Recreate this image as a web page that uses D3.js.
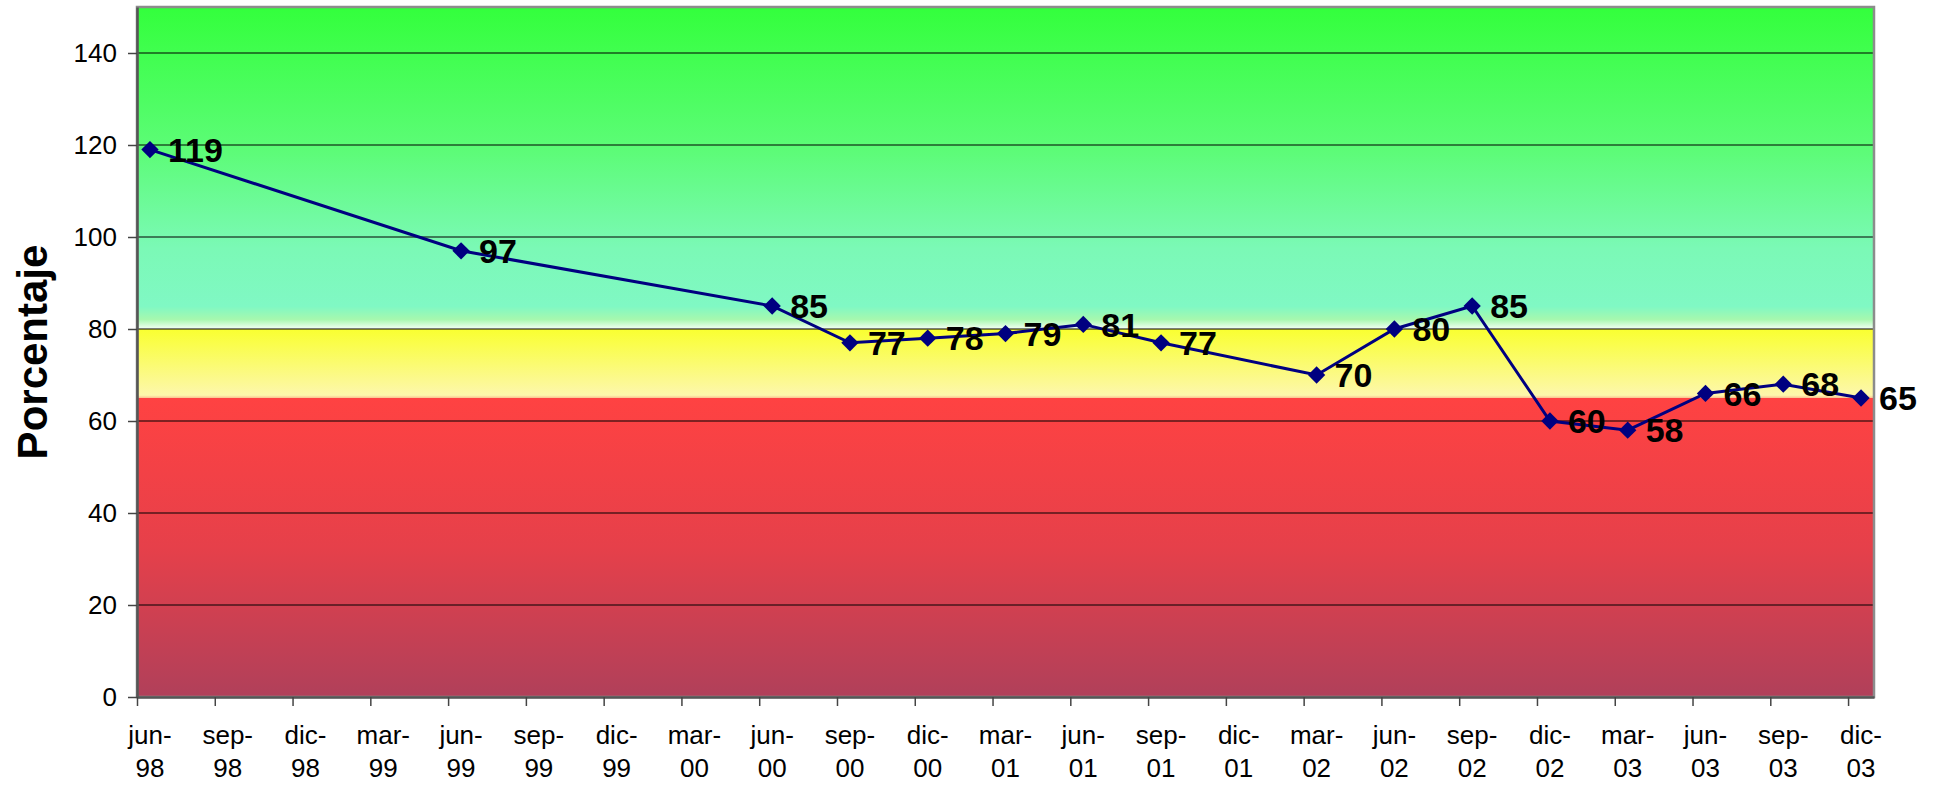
<!DOCTYPE html>
<html>
<head>
<meta charset="utf-8">
<script src="https://cdn.jsdelivr.net/npm/d3@7"></script>
<style>
    body { margin: 0; background: #fff; }
    #chart { width: 1935px; height: 786px; }
    text { font-family: Arial, "Liberation Sans", sans-serif; }
</style>
</head>
<body>
<div id="chart"></div>
<script>

// quarterly readings (yyyy-mm) and their value in %
let fechas = ["1998-06", "1999-06", "2000-06", "2000-09", "2000-12", "2001-03", "2001-06", "2001-09",
    "2002-03", "2002-06", "2002-09", "2002-12", "2003-03", "2003-06", "2003-09", "2003-12"];
let valores = [119, 97, 85, 77, 78, 79, 81, 77, 70, 80, 85, 60, 58, 66, 68, 65];

// x axis labels, one every 3 months starting jun-98
let meses = ["jun-98", "sep-98", "dic-98", "mar-99", "jun-99", "sep-99", "dic-99", "mar-00",
    "jun-00", "sep-00", "dic-00", "mar-01", "jun-01", "sep-01", "dic-01", "mar-02",
    "jun-02", "sep-02", "dic-02", "mar-03", "jun-03", "sep-03", "dic-03"];

let yTicks = [0, 20, 40, 60, 80, 100, 120, 140];
let bandLimits = [0, 65, 80, 150];   // rojo / amarillo / verde

class LineChart {

    constructor(parentElement) {
        this.parentElement = parentElement;
        this.displayData = [];
        this.initVis();
    }

    initVis() {
        let vis = this;

        vis.margin = {top: 7, right: 61, bottom: 89, left: 137};
        vis.width = 1935 - vis.margin.left - vis.margin.right;
        vis.height = 786 - vis.margin.top - vis.margin.bottom;

        vis.svg = d3.select("#" + vis.parentElement).append("svg")
            .attr("width", 1935)
            .attr("height", 786)
            .append("g")
            .attr("transform", `translate(${vis.margin.left}, ${vis.margin.top})`);

        // months since jun-98; one slot per month, 67 slots up to dic-03
        vis.nMonths = meses.length * 3 - 2;
        vis.x = d3.scaleLinear().domain([0, vis.nMonths]).range([0, vis.width]);
        vis.y = d3.scaleLinear().domain([bandLimits[0], bandLimits[3]]).range([vis.height, 0]);

        // gradients for the background bands
        let defs = vis.svg.append("defs");
        let grads = [
            {id: "gRed", stops: [[0, "#ff4242"], [0.5, "#e6404a"], [1, "#b0405a"]]},
            {id: "gYellow", stops: [[0, "#f9ff30"], [0.5, "#fbfb70"], [0.96, "#fdf7ac"], [1, "#fbc090"]]},
            {id: "gGreen", stops: [[0, "#33ff3c"], [0.45, "#5dfc78"], [0.75, "#7bf9b6"], [0.93, "#80f8c4"],
                    [0.97, "#a6f8ae"], [1, "#f4fff4"]]}
        ];
        grads.forEach(g => {
            let lg = defs.append("linearGradient").attr("id", g.id)
                .attr("x1", 0).attr("y1", 0).attr("x2", 0).attr("y2", 1);
            g.stops.forEach(s => lg.append("stop").attr("offset", s[0]).attr("stop-color", s[1]));
        });

        vis.svg.selectAll(".band")
            .data([0, 1, 2])
            .enter().append("rect")
            .attr("class", "band")
            .attr("x", 0)
            .attr("width", vis.width)
            .attr("y", i => vis.y(bandLimits[i + 1]))
            .attr("height", i => vis.y(bandLimits[i]) - vis.y(bandLimits[i + 1]))
            .attr("fill", i => `url(#${grads[i].id})`);

        // grid lines
        vis.svg.append("g")
            .attr("class", "grid")
            .selectAll("line")
            .data(yTicks.filter(d => d > 0))
            .enter().append("line")
            .attr("x1", 0).attr("x2", vis.width)
            .attr("y1", d => vis.y(d)).attr("y2", d => vis.y(d))
            .attr("stroke", "#000")
            .attr("stroke-width", 1.2);

        // plot border
        vis.svg.append("rect")
            .attr("x", 0).attr("y", 0)
            .attr("width", vis.width).attr("height", vis.height)
            .attr("fill", "none")
            .attr("stroke", "#8c8c8c")
            .attr("stroke-width", 2.5);

        // axes
        vis.yAxis = d3.axisLeft(vis.y).tickValues(yTicks).tickSize(9).tickPadding(11).tickSizeOuter(0);
        vis.xAxis = d3.axisBottom(vis.x)
            .tickValues(meses.map((d, i) => i * 3))
            .tickSize(9).tickSizeOuter(0)
            .tickFormat("");

        vis.svg.append("g").attr("class", "y-axis axis");
        vis.svg.append("g").attr("class", "x-axis axis")
            .attr("transform", "translate(0," + vis.height + ")");

        // y title
        vis.svg.append("text")
            .attr("transform", "rotate(-90)")
            .attr("x", -vis.height / 2)
            .attr("y", 47 - vis.margin.left)
            .attr("text-anchor", "middle")
            .attr("font-size", "42px")
            .attr("font-weight", "bold")
            .text("Porcentaje");

        this.wrangleData();
    }

    wrangleData() {
        let vis = this;
        vis.displayData = fechas.map((f, i) => {
            let parts = f.split("-");
            let month = (+parts[0] - 1998) * 12 + (+parts[1] - 6);
            return {month: month, value: valores[i]};
        });
        vis.updateVis();
    }

    updateVis() {
        let vis = this;

        vis.svg.select(".y-axis").call(vis.yAxis);
        vis.svg.select(".x-axis").call(vis.xAxis);

        vis.svg.selectAll(".axis path").attr("stroke", "#555").attr("stroke-width", 2.5);
        vis.svg.selectAll(".axis line").attr("stroke", "#444").attr("stroke-width", 1.5);
        vis.svg.selectAll(".y-axis text")
            .attr("font-size", "26px")
            .attr("font-family", "Arial, 'Liberation Sans', sans-serif")
            .attr("fill", "#000");

        // two line month labels, centred on the month slot
        let xl = vis.svg.append("g").attr("class", "x-labels")
            .selectAll("text")
            .data(meses)
            .enter().append("text")
            .attr("text-anchor", "middle")
            .attr("font-size", "26px")
            .attr("fill", "#000");
        xl.append("tspan")
            .attr("x", (d, i) => vis.x(i * 3 + 0.5))
            .attr("y", vis.height + 47)
            .text(d => d.split("-")[0] + "-");
        xl.append("tspan")
            .attr("x", (d, i) => vis.x(i * 3 + 0.5))
            .attr("y", vis.height + 80)
            .text(d => d.split("-")[1]);

        let line = d3.line()
            .x(d => vis.x(d.month + 0.5))
            .y(d => vis.y(d.value));

        vis.svg.append("path")
            .datum(vis.displayData)
            .attr("fill", "none")
            .attr("stroke", "#000080")
            .attr("stroke-width", 3)
            .attr("d", line);

        vis.svg.selectAll(".marker")
            .data(vis.displayData)
            .enter().append("path")
            .attr("class", "marker")
            .attr("d", d3.symbol(d3.symbolSquare, 150))
            .attr("transform", d => `translate(${vis.x(d.month + 0.5)}, ${vis.y(d.value)}) rotate(45)`)
            .attr("fill", "#000080");

        vis.svg.selectAll(".label-value")
            .data(vis.displayData)
            .enter().append("text")
            .attr("class", "label-value")
            .attr("x", d => vis.x(d.month + 0.5) + 18)
            .attr("y", d => vis.y(d.value))
            .attr("dy", "0.36em")
            .attr("font-size", "34px")
            .attr("font-weight", "bold")
            .attr("fill", "#000")
            .text(d => d.value);
    }
}

new LineChart("chart");
</script>
</body>
</html>
